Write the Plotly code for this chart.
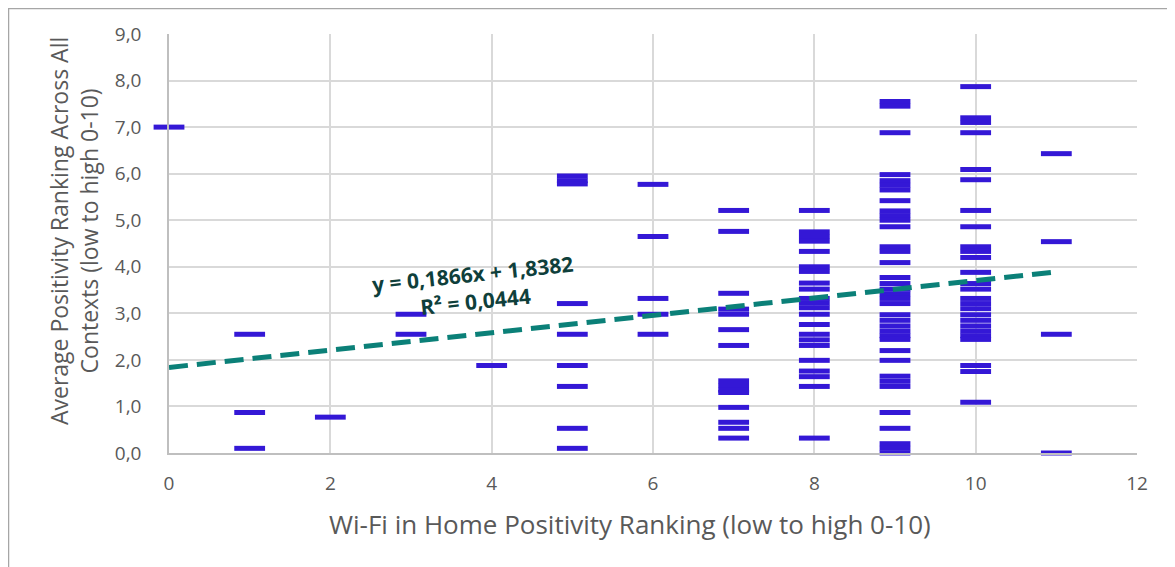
import plotly.graph_objects as go

# Wi-Fi ranking (x) -> average positivity ranking values (y)
y_x0 = [7.0]
y_x1 = [2.55, 0.87, 0.10]
y_x2 = [0.77]
y_x3 = [2.98, 2.55]
y_x4 = [1.88]
y_x5 = [5.95, 5.85, 5.78, 3.21, 2.55, 1.88, 1.43, 0.53, 0.10]
y_x6 = [5.77, 4.65, 3.32, 2.98, 2.55]
y_x7 = [5.21, 4.76, 3.43, 3.09, 2.98, 2.65, 2.31, 1.55, 1.45, 1.35, 1.30,
        0.98, 0.66, 0.53, 0.32]
y_x8 = [5.21, 4.75, 4.65, 4.55, 4.33, 4.0, 3.9, 3.65, 3.52, 3.32, 3.22, 3.12,
        2.98, 2.76, 2.55, 2.43, 2.31, 1.99, 1.76, 1.64, 1.43, 0.32]
y_x9 = [7.55, 7.45, 6.88, 5.98, 5.85, 5.75, 5.65, 5.42, 5.2, 5.1, 5.0, 4.86,
        4.43, 4.33, 4.09, 3.77, 3.64, 3.52, 3.42, 3.32, 3.21, 2.97, 2.85, 2.73,
        2.62, 2.52, 2.44, 2.20, 1.99, 1.65, 1.54, 1.43, 0.87, 0.53, 0.2, 0.1, 0.0]
y_x10 = [7.87, 7.2, 7.1, 6.88, 6.09, 5.87, 5.21, 4.86, 4.43, 4.33, 4.20, 3.88,
         3.64, 3.52, 3.32, 3.21, 3.10, 2.97, 2.85, 2.73, 2.62, 2.52, 2.44,
         1.88, 1.75, 1.09]
y_x11 = [6.43, 4.54, 2.55, 0.0]

columns = [y_x0, y_x1, y_x2, y_x3, y_x4, y_x5, y_x6, y_x7, y_x8, y_x9, y_x10, y_x11]

wifi_rank = []
avg_rank = []
for i, col in enumerate(columns):
    wifi_rank += [i] * len(col)
    avg_rank += col

# linear trendline from the chart's equation
slope = 0.1866
intercept = 1.8382
r_squared = 0.0444
trend_x = [0, 11]
trend_y = [intercept + slope * v for v in trend_x]

FONT = "Open Sans"

fig = go.Figure()

fig.add_trace(go.Scatter(
    x=wifi_rank, y=avg_rank, mode="markers",
    marker=dict(symbol="line-ew", size=22, color="#3418D6",
                line=dict(color="#3418D6", width=5)),
    cliponaxis=False, showlegend=False,
))

fig.add_trace(go.Scatter(
    x=trend_x, y=trend_y, mode="lines",
    line=dict(color="#0B8078", width=5, dash="19px,9px"),
    showlegend=False,
))

fig.add_annotation(
    x=3.78, y=3.56, xref="x", yref="y",
    text="y = 0,1866x + 1,8382<br>R² = 0,0444",
    showarrow=False, textangle=-6,
    font=dict(family=FONT, size=21, color="#0F3F3B", weight="bold"),
)

# axis titles placed as annotations (Excel offsets them slightly)
fig.add_annotation(
    x=0.476, y=-0.1695, xref="paper", yref="paper",
    xanchor="center", yanchor="middle",
    text="Wi-Fi in Home Positivity Ranking (low to high 0-10)",
    showarrow=False, font=dict(family=FONT, size=26, color="#595959"),
)
fig.add_annotation(
    x=-0.098, y=0.53, xref="paper", yref="paper",
    xanchor="center", yanchor="middle",
    text="Average Positivity Ranking Across All<br>Contexts (low to high 0-10)",
    showarrow=False, textangle=-90,
    font=dict(family=FONT, size=23, color="#595959"),
)

# outer chart border
fig.add_shape(type="rect", xref="paper", yref="paper",
              x0=-0.1658, x1=1.0362, y0=-0.30, y1=1.0609,
              line=dict(color="#A6A6A6", width=1.5), layer="below")

fig.update_layout(
    width=1167, height=559,
    margin=dict(l=161, r=38, t=26, b=114),
    plot_bgcolor="white", paper_bgcolor="white",
    separators=",.",
    font=dict(family=FONT, color="#595959"),
)

fig.update_xaxes(
    range=[0, 12], dtick=2, tick0=0,
    showgrid=True, gridcolor="#D9D9D9", gridwidth=1.5,
    showline=True, linecolor="#BFBFBF", linewidth=1.5,
    zeroline=False, ticks="", ticklabelstandoff=12,
    tickfont=dict(size=19, color="#595959"),
)

fig.update_yaxes(
    range=[0, 9], dtick=1, tick0=0, tickformat=".1f",
    showgrid=True, gridcolor="#D9D9D9", gridwidth=1.5,
    showline=True, linecolor="#BFBFBF", linewidth=1.5,
    zeroline=False, ticks="", ticklabelstandoff=22,
    tickfont=dict(size=19, color="#595959"),
)

fig.write_html("out.html")
